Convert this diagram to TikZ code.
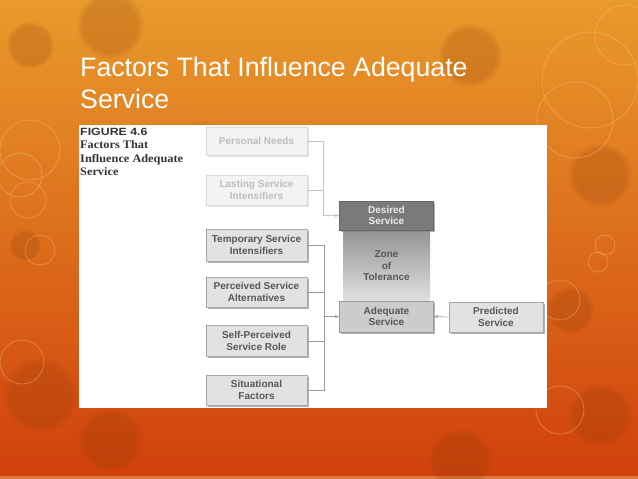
\documentclass[tikz,border=0pt]{standalone}
\usepackage{fontspec}
\setmainfont{Liberation Sans}
\newfontfamily\capserif{Liberation Serif}
\usetikzlibrary{shadows,arrows.meta,fadings}
\definecolor{bgtop}{HTML}{E99A2C}
\definecolor{bgmid}{HTML}{E07A1E}
\definecolor{bgbot}{HTML}{D0400C}
\definecolor{ringcol}{HTML}{F8CF85}
\definecolor{blobcol}{HTML}{8A3A08}
\definecolor{boxfill}{HTML}{E2E2E2}
\definecolor{boxline}{HTML}{A8A8A8}
\definecolor{boxtext}{HTML}{575757}
\definecolor{fadefill}{HTML}{F3F3F3}
\definecolor{fadeline}{HTML}{DADADA}
\definecolor{fadetext}{HTML}{BDBDBD}
\definecolor{darkfill}{HTML}{7A7A7A}
\definecolor{linegray}{HTML}{9C9C9C}
\definecolor{fadelinegray}{HTML}{C4C4C4}
\definecolor{captext}{HTML}{333333}
\begin{document}
\begin{tikzpicture}[x=1pt,y=-1pt,
  basebox/.style={draw=boxline, fill=boxfill, text=boxtext, line width=0.6pt,
    font=\bfseries\fontsize{10}{11.5}\selectfont, align=center,
    minimum width=101pt, minimum height=30pt, inner sep=1pt},
  factor/.style={basebox, drop shadow={shadow xshift=1.6pt, shadow yshift=-1.6pt, fill=black!50, opacity=0.6}},
  faded/.style={basebox, draw=fadeline, fill=fadefill, text=fadetext,
    drop shadow={shadow xshift=1.6pt, shadow yshift=-1.6pt, fill=black!20, opacity=0.5}},
  level/.style={factor, minimum width=94pt},
  conn/.style={draw=linegray, line width=0.6pt},
  fconn/.style={draw=fadelinegray, line width=0.6pt},
  arr/.style={conn, -{Stealth[length=4.5pt,width=3.2pt]}},
  farr/.style={fconn, -{Stealth[length=4.5pt,width=3.2pt]}},
  ring/.style={draw=ringcol, line width=0.7pt, draw opacity=0.4},
  blob/.style={fill=blobcol, fill opacity=0.22, path fading=circle with fuzzy edge 20 percent},
  titletext/.style={text=white, font=\fontsize{26.7}{32}\selectfont, anchor=base west, inner sep=0pt},
  captline/.style={text=captext, anchor=base west, inner sep=0pt, xscale=1.07,
    font=\capserif\bfseries\fontsize{11.5}{12}\selectfont}
]
\useasboundingbox (0,0) rectangle (638,479);
% background
\shade[top color=bgtop, middle color=bgmid, bottom color=bgbot] (0,0) rectangle (638,479);
\fill[color=bgmid!70!white, opacity=0.6] (0,476) rectangle (638,479);
% decorative blobs and rings
\fill[blob] (110,25) circle (34);
\fill[blob] (30,45) circle (24);
\fill[blob] (470,55) circle (32);
\fill[blob] (600,175) circle (32);
\fill[blob] (570,310) circle (24);
\fill[blob] (600,415) circle (32);
\fill[blob] (40,395) circle (38);
\fill[blob] (25,245) circle (16);
\fill[blob] (110,440) circle (32);
\fill[blob] (460,460) circle (32);
\fill[blob] (200,150) circle (30);
\draw[ring] (30,150) circle (30);
\draw[ring] (20,175) circle (22);
\draw[ring] (28,200) circle (18);
\draw[ring] (40,250) circle (15);
\draw[ring] (590,80) circle (48);
\draw[ring] (625,35) circle (30);
\draw[ring] (575,120) circle (38);
\draw[ring] (560,300) circle (20);
\draw[ring] (560,410) circle (24);
\draw[ring] (22,362) circle (22);
\draw[ring] (605,245) circle (10);
\draw[ring] (598,262) circle (10);
% title
\node[titletext] (t1) at (80,76) {Factors That Influence Adequate};
\node[titletext] (t2) at (80,108) {Service};
% white panel
\fill[white] (79,125) rectangle (547,408);
% caption
\node[captline, font=\bfseries\fontsize{10.5}{12}\selectfont, xscale=1.1] (c0) at (80,135) {FIGURE 4.6};
\node[captline] (c1) at (80,148.5) {Factors That};
\node[captline] (c2) at (80,162) {Influence Adequate};
\node[captline] (c3) at (80,175.5) {Service};
% zone of tolerance
\shade[top color=black!42, bottom color=black!12] (343,230) rectangle (430,301);
\node[text=boxtext, font=\bfseries\fontsize{10}{11.5}\selectfont, align=center] (zone) at (386.5,266) {Zone\\of\\Tolerance};
% left factor boxes
\node[faded, minimum height=28pt] (pn) at (256.5,141) {Personal Needs};
\node[faded] (ls) at (256.5,190) {Lasting Service\\Intensifiers};
\node[factor, minimum height=32pt] (ts) at (256.5,245) {Temporary Service\\Intensifiers};
\node[factor] (pa) at (256.5,292) {Perceived Service\\Alternatives};
\node[factor, minimum height=31pt] (sp) at (256.5,341) {Self-Perceived\\Service Role};
\node[factor] (sf) at (256.5,390) {Situational\\Factors};
% service levels
\node[level, fill=darkfill, draw=black!60, text=white!92!black, minimum height=29pt] (ds) at (386.5,215.5) {Desired\\Service};
\node[level, fill=black!20, draw=black!40, minimum height=31pt] (as) at (386.5,316.5) {Adequate\\Service};
\node[level] (ps) at (496,317) {Predicted\\Service};
% connectors
\coordinate (j1) at (323,215.5);
\coordinate (j2) at (324,316.5);
\draw[fconn] (pn.east) -| (j1);
\draw[fconn] (ls.east) -- (ls.east -| j1);
\draw[farr] (j1) -- (ds.west);
\draw[conn] (ts.east) -| (j2);
\draw[conn] (sf.east) -| (j2);
\draw[conn] (pa.east) -- (pa.east -| j2);
\draw[conn] (sp.east) -- (sp.east -| j2);
\draw[arr] (j2) -- (as.west);
\draw[arr] (ps.west) -- (as.east);
\end{tikzpicture}
\end{document}
